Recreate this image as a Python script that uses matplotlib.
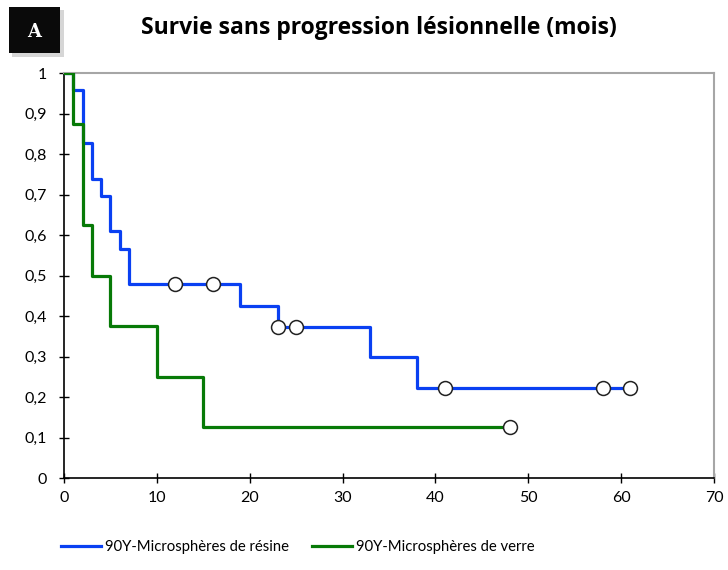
import matplotlib.pyplot as plt
from matplotlib.patches import Rectangle

plt.rcParams['font.family'] = ['Lato', 'DejaVu Sans']

# Kaplan-Meier, microspheres de resine
resine_t = [0, 1, 2, 3, 4, 5, 6, 7, 19, 23, 33, 38, 61]
resine_s = [1, 0.957, 0.826, 0.739, 0.696, 0.609, 0.565, 0.478, 0.425, 0.372, 0.298, 0.223, 0.223]
resine_cens_t = [12, 16, 23, 25, 41, 58, 61]
resine_cens_s = [0.478, 0.478, 0.372, 0.372, 0.223, 0.223, 0.223]

# microspheres de verre
verre_t = [0, 1, 2, 3, 5, 10, 15, 48]
verre_s = [1, 0.875, 0.625, 0.5, 0.375, 0.25, 0.125, 0.125]
verre_cens_t = [48]
verre_cens_s = [0.125]

yticks = [0, 0.1, 0.2, 0.3, 0.4, 0.5, 0.6, 0.7, 0.8, 0.9, 1]
ytick_labels = ['0', '0,1', '0,2', '0,3', '0,4', '0,5', '0,6', '0,7', '0,8', '0,9', '1']
xticks = [0, 10, 20, 30, 40, 50, 60, 70]

blue = '#0A40F2'
green = '#077A07'

fig = plt.figure(figsize=(7.28, 5.70), dpi=100)
ax = fig.add_axes([0.0879, 0.1614, 0.8929, 0.7105])

l1, = ax.step(resine_t, resine_s, where='post', color=blue, lw=2.3, zorder=3,
              label='90Y-Microsphères de résine')
l2, = ax.step(verre_t, verre_s, where='post', color=green, lw=2.3, zorder=4,
              label='90Y-Microsphères de verre')
ax.plot(resine_cens_t, resine_cens_s, 'o', ms=10, mfc='white', mec='#222222', mew=1.1, zorder=5)
ax.plot(verre_cens_t, verre_cens_s, 'o', ms=10, mfc='white', mec='#222222', mew=1.1, zorder=5)

ax.set_xlim(0, 70)
ax.set_ylim(0, 1)
ax.set_xticks(xticks)
ax.set_yticks(yticks)
ax.set_yticklabels(ytick_labels)
ax.tick_params(direction='inout', length=7, width=1, labelsize=11.5, colors='black')
ax.tick_params(axis='x', pad=6)
ax.tick_params(axis='y', pad=9)
for s in ['left', 'bottom']:
    ax.spines[s].set_color('black')
    ax.spines[s].set_linewidth(1.2)
for s in ['top', 'right']:
    ax.spines[s].set_color('#A6A6A6')
    ax.spines[s].set_linewidth(1.5)

fig.text(0.52, 0.951, 'Survie sans progression lésionnelle (mois)', ha='center', va='center',
         fontsize=16.5, fontweight='bold', family='Open Sans')

# panel label box
shadow = Rectangle((0.016, 0.900), 0.072, 0.082, transform=fig.transFigure,
                   facecolor='#BBBBBB', edgecolor='none', alpha=0.6)
fig.patches.append(shadow)
box = Rectangle((0.012, 0.907), 0.070, 0.081, transform=fig.transFigure,
                facecolor='#0A0A0A', edgecolor='none')
fig.patches.append(box)
fig.text(0.047, 0.944, 'A', ha='center', va='center', color='white', fontsize=13,
         fontweight='bold', family='DejaVu Serif')

fig.legend(handles=[l1, l2], loc='center', bbox_to_anchor=(0.409, 0.04), ncol=2, frameon=False,
           fontsize=10.7, handlelength=2.7, handletextpad=0.25, columnspacing=1.6)

fig.savefig('out.png', dpi=100)
